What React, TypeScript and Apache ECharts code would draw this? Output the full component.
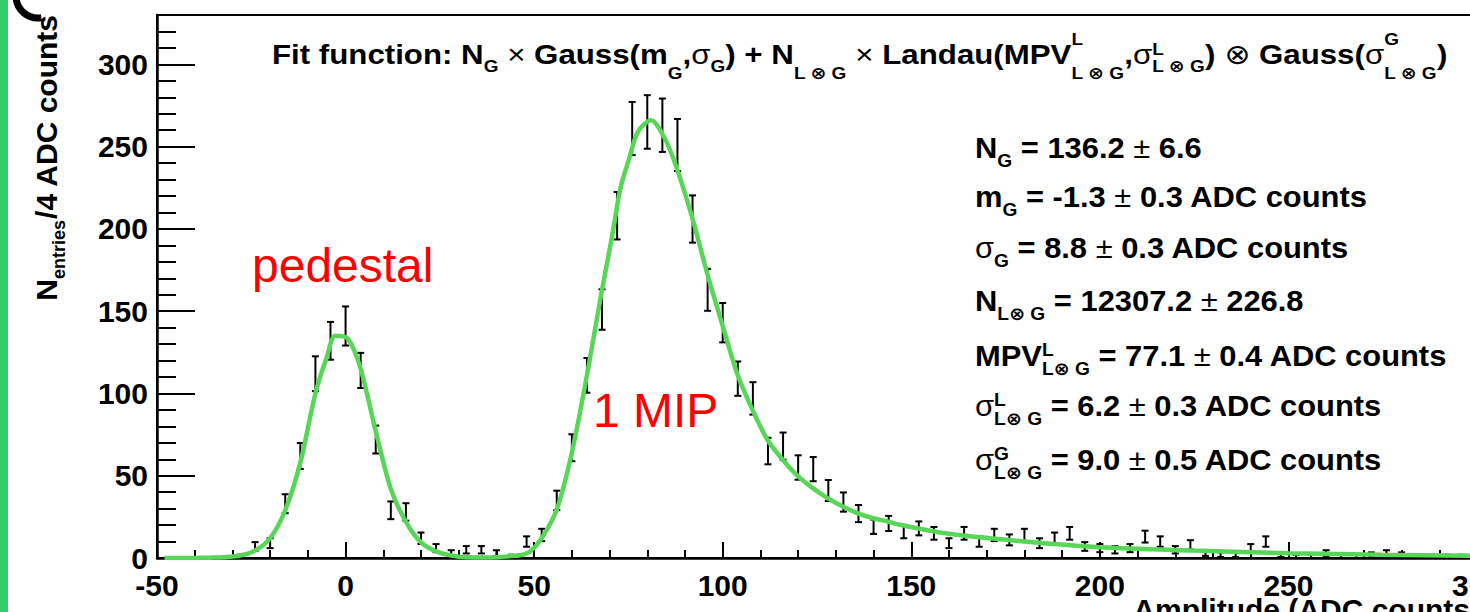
import React, { useEffect, useRef } from 'react';
import * as echarts from 'echarts';

// ---------- data ----------
const BIN_LOW = -50;
const BIN_WIDTH = 4;

// entries per 4-ADC-count bin; first bin is centred at -48
const countsPedestal = [
  0, 0, 0, 0, 0, 1, 7, 9, 33, 62, 112, 132, 141, 114, 72, 29, 28, 12, 6, 3, 5, 5, 3, 1,
];
const countsPeak = [
  10, 14, 35, 67, 111, 151, 208, 261, 265, 263, 251, 206, 163, 143, 109, 97, 65, 68, 55, 54,
  41, 34, 27, 19,
];
const countsTail = [
  21, 16, 18, 15, 9, 15, 10, 14, 11, 14, 9, 12, 15, 7, 6, 5, 6, 13, 10, 5, 8, 3, 2, 2, 6, 10,
  2, 1, 1, 3, 1, 1, 2, 3, 2, 1, 1, 1, 1,
];
const binCounts = [...countsPedestal, ...countsPeak, ...countsTail];

// fitted curve
const fitX = [
  -48, -40, -36, -32, -28, -24, -20, -16, -12, -8, -5, -2.7, 0.7, 4, 8, 12, 16, 20, 24, 28, 32,
  36, 40, 44, 47, 49, 52, 56, 60, 64, 67.6, 70.7, 72.9, 75.1, 77.5, 81, 84.4, 87.5, 91.9, 96,
  100, 104, 107.8, 111.8, 115.8, 119.8, 123.8, 127.7, 131.7, 135.7, 139.7, 143.7, 147, 160,
  180, 200, 225, 250, 275, 300,
];
const fitY = [
  0, 0.05, 0.2, 0.5, 1.5, 4.5, 12, 29, 58, 100, 122, 135, 133, 115, 77, 42, 22, 9.5, 4, 1.5,
  0.4, 0.3, 0.5, 1.2, 2, 4, 12, 29.5, 64, 111, 158, 196, 225, 242, 259, 266, 256, 239, 207,
  172, 141, 111, 90.5, 72, 60, 50, 42.6, 36.5, 31.4, 27.3, 24.3, 22.2, 20.2, 14.7, 10, 6.5,
  4.5, 2.9, 2, 1.4,
];

const xTickValues = [-50, 0, 50, 100, 150, 200, 250, 300];
const yTickValues = [0, 50, 100, 150, 200, 250, 300];

// ---------- styling ----------
const FONT = "'Liberation Sans', Arial, Helvetica, 'DejaVu Sans', sans-serif";
const GREEN = '#57d657';

function tok(fs: number, weight: string, va: string, extra: any = {}) {
  return {
    fontSize: fs,
    fontWeight: weight,
    fontFamily: FONT,
    fill: '#000',
    color: '#000',
    verticalAlign: va,
    ...extra,
  };
}

// parameter block
const P_FS = 29;
const P_LH = 40;
const P_SUB = 18;
const pRich: any = {
  m: tok(P_FS, 'bold', 'middle'),
  s: tok(P_FS, 'normal', 'middle'),
  sub: tok(P_SUB, 'bold', 'bottom', { height: 15 }),
  sup: tok(P_SUB, 'bold', 'top', { height: 27, width: 0 }),
};
const paramLines = [
  '{m|N}{sub|G}{m| = 136.2 }{s|±}{m| 6.6}',
  '{m|m}{sub|G}{m| = -1.3 }{s|±}{m| 0.3 ADC counts}',
  '{s|σ}{sub|G}{m| = 8.8 }{s|±}{m| 0.3 ADC counts}',
  '{m|N}{sub|L⊗ G}{m| = 12307.2 }{s|±}{m| 226.8}',
  '{m|MPV}{sup|L}{sub|L⊗ G}{m| = 77.1 }{s|±}{m| 0.4 ADC counts}',
  '{s|σ}{sup|L}{sub|L⊗ G}{m| = 6.2 }{s|±}{m| 0.3 ADC counts}',
  '{s|σ}{sup|G}{sub|L⊗ G}{m| = 9.0 }{s|±}{m| 0.5 ADC counts}',
];
const paramBaselines = [158, 207, 258, 311, 366, 416, 470];

// title
const T_FS = 28;
const T_LH = 44;
const T_SUB = 17;
const tRich: any = {
  m: tok(T_FS, 'bold', 'middle'),
  s: tok(T_FS, 'normal', 'middle'),
  sa: tok(T_SUB, 'bold', 'bottom', { height: 19 }),
  sb: tok(T_SUB, 'bold', 'bottom', { height: 5 }),
  pa: tok(T_SUB, 'bold', 'top', { height: 15, width: 0 }),
  pb: tok(T_SUB, 'bold', 'top', { height: 35, width: 0 }),
};
const titleText =
  '{m|Fit function: N}{sa|G}{s| × }{m|Gauss(m}{sb|G}{m|,}{s|σ}{sa|G}{m|) + N}{sb|L ⊗ G}' +
  '{s| × }{m|Landau(MPV}{pa|L}{sb|L ⊗ G}{m|,}{s|σ}{pb|L}{sa|L ⊗ G}{m|) }{s|⊗}{m| Gauss(}' +
  '{s|σ}{pa|G}{sb|L ⊗ G}{m|)}';

// y-axis title
const yRich: any = {
  m: tok(30, 'bold', 'middle'),
  sub: tok(18, 'bold', 'bottom', { height: 15 }),
};
const yTitle = '{m|N}{sub|entries}{m|/4 ADC counts}';

export default function App() {
  const ref = useRef<HTMLDivElement>(null);

  useEffect(() => {
    if (!ref.current) return;
    const chart = echarts.init(ref.current, null, { renderer: 'svg' });

    const errData = binCounts
      .map((c, i) => [BIN_LOW + (i + 0.5) * BIN_WIDTH, c, Math.sqrt(c)])
      .filter((d) => d[1] > 0);

    const graphics: any[] = [
      {
        type: 'rect',
        shape: { x: 0, y: 0, width: 8, height: 612 },
        style: { fill: '#33cc66' },
        silent: true,
      },
      {
        type: 'arc',
        shape: { cx: 38, cy: -4, r: 22, startAngle: Math.PI * 0.45, endAngle: Math.PI, clockwise: true },
        style: { stroke: '#000', lineWidth: 7, fill: 'none' },
        silent: true,
      },
      {
        type: 'text',
        x: 272,
        y: 64 - (T_LH / 2 + 0.3465 * T_FS),
        scaleX: 1.116,
        style: {
          text: titleText,
          rich: tRich,
          lineHeight: T_LH,
          align: 'left',
          verticalAlign: 'top',
        },
      },
      ...paramLines.map((t, i) => ({
        type: 'text',
        x: 975,
        y: paramBaselines[i] - (P_LH / 2 + 0.3465 * P_FS),
        scaleX: 1.065,
        style: { text: t, rich: pRich, lineHeight: P_LH, align: 'left', verticalAlign: 'top' },
      })),
      {
        type: 'text',
        x: 26,
        y: 15,
        rotation: Math.PI / 2,
        style: { text: yTitle, rich: yRich, lineHeight: 40, align: 'right', verticalAlign: 'top' },
      },
      {
        type: 'text',
        x: 1480,
        y: 609,
        style: {
          text: 'Amplitude (ADC counts)',
          fontSize: 30,
          fontWeight: 'bold',
          fontFamily: FONT,
          fill: '#000',
          align: 'right',
          verticalAlign: 'middle',
        },
      },
      {
        type: 'text',
        x: 252,
        y: 282 - 0.3465 * 48,
        style: {
          text: 'pedestal',
          fontSize: 48,
          fontFamily: FONT,
          fill: '#ff0000',
          align: 'left',
          verticalAlign: 'middle',
        },
      },
      {
        type: 'text',
        x: 593,
        y: 427 - 0.3465 * 48,
        style: {
          text: '1 MIP',
          fontSize: 48,
          fontFamily: FONT,
          fill: '#ff0000',
          align: 'left',
          verticalAlign: 'middle',
        },
      },
    ];

    const labelStyle = {
      fontSize: 30,
      fontWeight: 'bold',
      fontFamily: FONT,
      color: '#000',
    };

    const option: any = {
      animation: false,
      backgroundColor: '#fff',
      grid: {
        left: 157,
        top: 15,
        right: -7,
        bottom: 54,
        containLabel: false,
        outerBoundsMode: 'none',
        show: true,
        borderColor: '#000',
        borderWidth: 2,
        backgroundColor: 'transparent',
      },
      xAxis: {
        type: 'value',
        min: -50,
        max: 300,
        interval: 50,
        axisLine: { show: true, onZero: false, lineStyle: { color: '#000', width: 2.5 } },
        axisTick: { show: true, inside: true, length: 16, lineStyle: { color: '#000', width: 2 } },
        minorTick: { show: true, splitNumber: 5, length: 8, lineStyle: { color: '#000', width: 2 } },
        axisLabel: {
          ...labelStyle,
          margin: 12,
          showMinLabel: true,
          showMaxLabel: true,
          hideOverlap: false,
          formatter: (v: number) => (xTickValues.includes(v) ? String(v) : ''),
        },
        splitLine: { show: false },
        minorSplitLine: { show: false },
      },
      yAxis: [
        {
          type: 'value',
          min: 0,
          max: 330,
          interval: 50,
          position: 'left',
          axisLine: { show: true, onZero: false, lineStyle: { color: '#000', width: 2.5 } },
          axisTick: { show: true, inside: true, length: 38, lineStyle: { color: '#000', width: 2 } },
          axisLabel: {
            ...labelStyle,
            margin: 9,
            formatter: (v: number) => (yTickValues.includes(v) ? String(v) : ''),
          },
          splitLine: { show: false },
        },
        {
          type: 'value',
          min: 0,
          max: 330,
          interval: 10,
          position: 'left',
          offset: 0,
          axisLine: { show: false, onZero: false },
          axisTick: { show: true, inside: true, length: 19, lineStyle: { color: '#000', width: 2 } },
          axisLabel: { show: false },
          splitLine: { show: false },
        },
      ],
      graphic: graphics,
      series: [
        {
          type: 'custom',
          name: 'data',
          xAxisIndex: 0,
          yAxisIndex: 0,
          data: errData,
          z: 2,
          renderItem: (params: any, api: any) => {
            const x = api.value(0);
            const y = api.value(1);
            const e = api.value(2);
            const lo = api.coord([x, y - e]);
            const hi = api.coord([x, y + e]);
            const cap = 3.5;
            const st = { stroke: '#000', lineWidth: 2 };
            return {
              type: 'group',
              children: [
                { type: 'line', shape: { x1: lo[0], y1: lo[1], x2: hi[0], y2: hi[1] }, style: st },
                { type: 'line', shape: { x1: lo[0] - cap, y1: lo[1], x2: lo[0] + cap, y2: lo[1] }, style: st },
                { type: 'line', shape: { x1: hi[0] - cap, y1: hi[1], x2: hi[0] + cap, y2: hi[1] }, style: st },
              ],
            };
          },
        },
        {
          type: 'line',
          name: 'fit',
          xAxisIndex: 0,
          yAxisIndex: 0,
          data: fitX.map((x, i) => [x, fitY[i]]),
          showSymbol: false,
          smooth: 0.3,
          z: 3,
          lineStyle: { color: GREEN, width: 4.5 },
          itemStyle: { color: GREEN },
        },
      ],
    };

    chart.setOption(option);
    return () => chart.dispose();
  }, []);

  return (
    <div
      ref={ref}
      style={{ position: 'fixed', left: 0, top: 0, width: 1470, height: 612, background: '#fff' }}
    />
  );
}
